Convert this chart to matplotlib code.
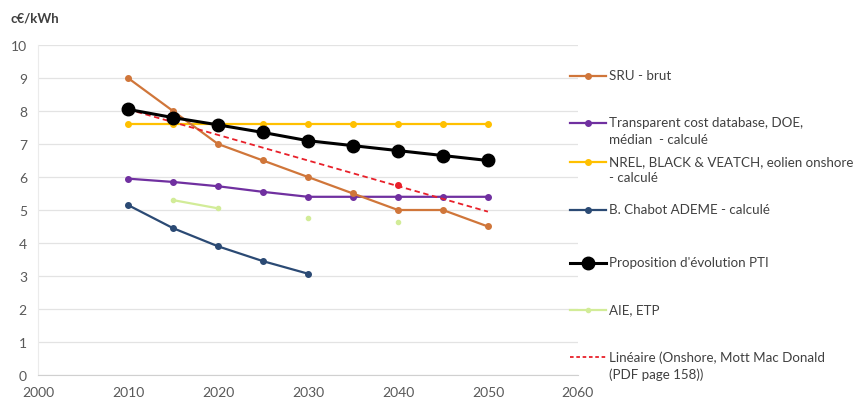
import matplotlib
matplotlib.use("Agg")
import matplotlib.pyplot as plt
from matplotlib.lines import Line2D

plt.rcParams['font.family'] = ['Lato', 'DejaVu Sans']

years = [2010, 2015, 2020, 2025, 2030, 2035, 2040, 2045, 2050]

sru = [9.0, 8.0, 7.0, 6.5, 6.0, 5.5, 5.0, 5.0, 4.5]
transparent = [5.95, 5.85, 5.72, 5.55, 5.4, 5.4, 5.4, 5.4, 5.4]
nrel = [7.6, 7.6, 7.6, 7.6, 7.6, 7.6, 7.6, 7.6, 7.6]
chabot_years = [2010, 2015, 2020, 2025, 2030]
chabot = [5.15, 4.45, 3.9, 3.45, 3.07]
pti = [8.05, 7.8, 7.58, 7.35, 7.1, 6.95, 6.8, 6.65, 6.5]
aie_years = [2015, 2020]
aie = [5.3, 5.05]
aie_pts_years = [2030, 2040]
aie_pts = [4.75, 4.65]
mott_years = [2040]
mott = [5.75]
trend_years = [2010, 2050]
trend = [8.05, 4.95]

labels = ["SRU - brut",
          "Transparent cost database, DOE,\nmédian  - calculé",
          "NREL, BLACK & VEATCH, eolien onshore\n- calculé",
          "B. Chabot ADEME - calculé",
          "Proposition d'évolution PTI",
          "AIE, ETP",
          "Linéaire (Onshore, Mott Mac Donald\n(PDF page 158))"]

c_sru = '#D0763A'
c_tr = '#7030A0'
c_nrel = '#FFC000'
c_cha = '#2B4A74'
c_pti = '#000000'
c_aie = '#D2EC98'
c_red = '#E8202A'

fig = plt.figure(figsize=(8.68, 4.06), dpi=100)
ax = fig.add_axes([0.0438, 0.0739, 0.622, 0.8128])

ax.plot(years, nrel, color=c_nrel, lw=1.6, marker='o', ms=4)
ax.plot(years, transparent, color=c_tr, lw=1.6, marker='o', ms=4)
ax.plot(years, sru, color=c_sru, lw=1.6, marker='o', ms=4)
ax.plot(chabot_years, chabot, color=c_cha, lw=1.6, marker='o', ms=4)
ax.plot(aie_years, aie, color=c_aie, lw=1.6, marker='o', ms=3)
ax.plot(aie_pts_years, aie_pts, color=c_aie, lw=0, marker='o', ms=3)
ax.plot(mott_years, mott, color=c_red, lw=0, marker='o', ms=4)
ax.plot(trend_years, trend, color=c_red, lw=1.3, ls=(0, (3, 2)))
ax.plot(years, pti, color=c_pti, lw=2.2, marker='o', ms=9)

ax.set_xlim(2000, 2060)
ax.set_ylim(0, 10)
ax.set_xticks(range(2000, 2061, 10))
ax.set_yticks(range(0, 11))
ax.grid(axis='y', color='#E3E3E3', lw=0.9)
ax.set_axisbelow(True)
for s in ['top', 'right']:
    ax.spines[s].set_visible(False)
ax.spines['left'].set_color('#EBEBEB')
ax.spines['bottom'].set_color('#D0D0D0')
ax.tick_params(length=0, labelsize=10, colors='#595959', pad=8)

fig.text(0.012, 0.955, "c€/kWh", fontsize=9.5, fontweight='bold', color='#404040',
         va='center')

# legend entries placed by hand (uneven spacing)
styles = [
    dict(color=c_sru, lw=1.6, marker='o', ms=4),
    dict(color=c_tr, lw=1.6, marker='o', ms=4),
    dict(color=c_nrel, lw=1.6, marker='o', ms=4),
    dict(color=c_cha, lw=1.6, marker='o', ms=4),
    dict(color=c_pti, lw=2.2, marker='o', ms=9),
    dict(color=c_aie, lw=1.6, marker='o', ms=3),
    dict(color=c_red, lw=1.3, ls=(0, (2, 1.5))),
]
rows_px = [77, 124, 163, 211, 264, 311, 358]
for st, lab, ypx in zip(styles, labels, rows_px):
    y = 1 - ypx / 406
    x0, x1 = 570 / 868, 606 / 868
    fig.add_artist(Line2D([x0, (x0 + x1) / 2, x1], [y, y, y], markevery=[1], **st))
    # first line of the label centred on the handle
    fig.text(609 / 868, y + 7 / 406, lab, fontsize=9.6, color='#404040', va='top',
             linespacing=1.45)

fig.savefig("out.png", dpi=100)
